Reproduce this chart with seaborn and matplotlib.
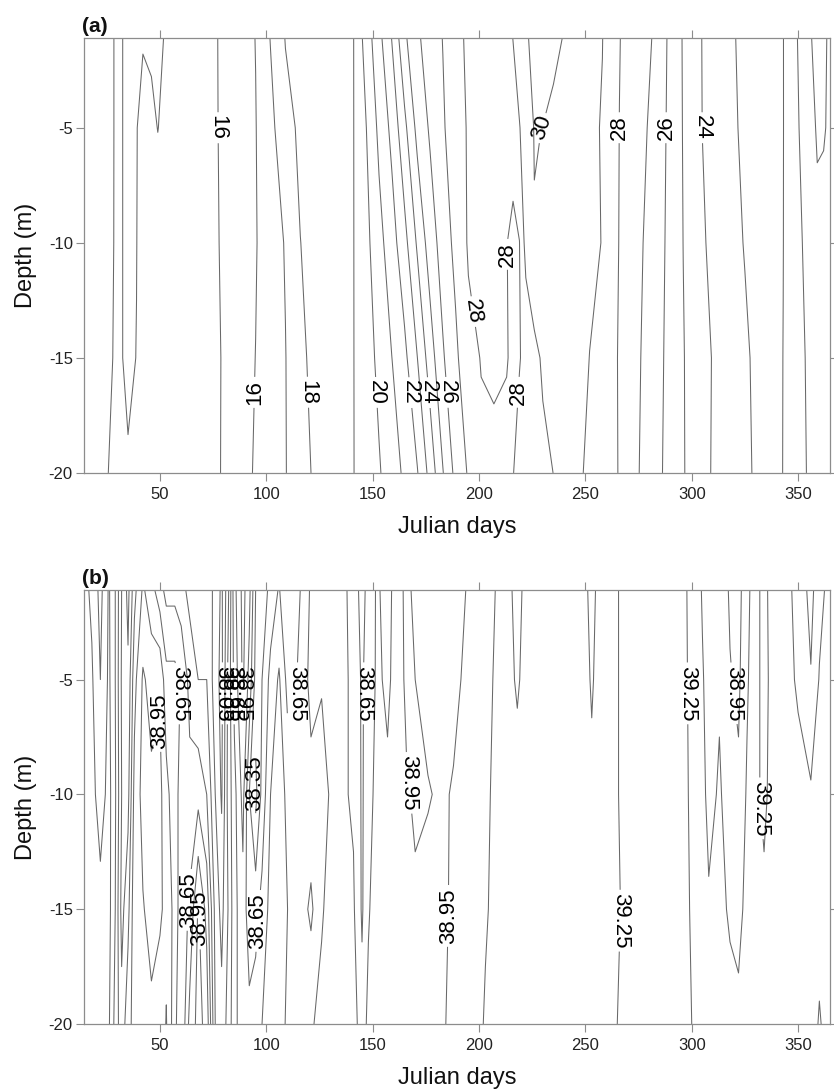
import numpy as np
import matplotlib
matplotlib.use("Agg")
import matplotlib.pyplot as plt
import seaborn as sns

sns.set_style("ticks")
plt.rcParams['font.family'] = ['Liberation Sans', 'DejaVu Sans']
plt.rcParams['axes.unicode_minus'] = False

# sampling depths (rows of both grids, top to bottom)
depths = [-1, -5, -10, -15, -20]

# ---- (a) temperature, values
days_a = [14, 22, 29, 32, 35, 39, 42, 46, 49, 52,
          60, 70, 77, 86, 95, 102, 109, 116, 122, 130,
          141, 147, 153, 159, 165, 171, 177, 183, 189, 195,
          201, 207, 213, 216, 219, 222, 226, 230, 235, 240,
          246, 252, 258, 266, 274, 282, 288, 296, 305, 315,
          325, 335, 343, 350, 355, 359, 362, 365]

temp_1m = [17.4, 17.2, 16.98, 16.97, 17.15, 17.1, 17.04, 17.08, 17.12, 16.99,
           16.7, 16.3, 16.01, 15.5, 16.02, 17.05, 18.05, 18.22, 18.41, 18.65,
           18.98, 20.47, 21.71, 23.05, 24.83, 25.85, 26.47, 27.03, 27.8, 28.12,
           28.37, 28.62, 28.87, 29.01, 29.45, 29.91, 30.2, 30.35, 30.2, 29.97,
           29.65, 29.33, 29.02, 28.03, 27.5, 26.95, 26.05, 24.92, 23.97, 23.3,
           22.77, 22.36, 22.02, 20.95, 20.05, 19.9, 19.95, 20.05]
temp_5m = [17.4, 17.2, 16.98, 16.97, 17.15, 17.02, 16.84, 16.9, 17.01, 16.9,
           16.65, 16.3, 16.02, 15.5, 15.97, 16.72, 17.69, 18.16, 18.36, 18.62,
           18.98, 19.99, 21.23, 22.25, 23.75, 25.29, 26.13, 26.88, 27.58, 28.09,
           28.31, 28.53, 28.74, 28.85, 28.96, 29.4, 30.05, 29.99, 29.82, 29.64,
           29.42, 29.2, 28.94, 27.99, 27.43, 26.75, 25.99, 24.95, 23.99, 23.37,
           22.82, 22.38, 22.02, 21.07, 20.29, 19.93, 19.95, 20.1]
temp_10m = [17.35, 17.18, 16.98, 16.97, 17.15, 17.01, 16.8, 16.78, 16.76, 16.75,
            16.6, 16.3, 16.05, 15.5, 15.95, 16.48, 17.07, 17.99, 18.24, 18.55,
            18.98, 19.73, 20.67, 21.57, 22.67, 24.14, 25.5, 26.43, 27.28, 28.1,
            28.2, 28.2, 28.05, 27.52, 27.98, 29.37, 29.94, 29.85, 29.7, 29.55,
            29.35, 29.15, 28.98, 27.96, 27.29, 26.55, 25.94, 24.99, 24.1, 23.5,
            22.95, 22.43, 22.01, 21.2, 20.7, 20.16, 20.2, 20.3]
temp_15m = [17.3, 17.15, 16.97, 16.98, 17.1, 16.99, 16.85, 16.8, 16.78, 16.75,
            16.6, 16.3, 16.09, 15.6, 16.01, 16.48, 16.97, 17.81, 18.19, 18.52,
            18.98, 19.57, 20.23, 20.99, 21.75, 22.99, 24.5, 25.89, 26.79, 27.75,
            28.03, 28.08, 28.02, 27.93, 27.97, 28.15, 28.7, 29.15, 29.4, 29.5,
            29.3, 28.99, 28.55, 27.93, 27.19, 26.45, 25.89, 25.05, 24.26, 23.65,
            23.15, 22.53, 21.99, 21.3, 20.85, 20.45, 20.4, 20.5]
temp_20m = [17.25, 17.08, 16.93, 16.94, 16.95, 16.93, 16.9, 16.85, 16.82, 16.8,
            16.6, 16.3, 16.08, 15.6, 16.08, 16.53, 16.96, 17.59, 18.08, 18.45,
            18.98, 19.44, 19.91, 20.52, 21.18, 21.94, 23.34, 24.95, 26.29, 27.1,
            27.85, 27.88, 27.9, 27.98, 28.2, 28.33, 28.54, 28.75, 29.01, 29.1,
            29.05, 28.95, 28.5, 27.95, 27.12, 26.39, 25.84, 25.07, 24.22, 23.66,
            23.2, 22.59, 21.98, 21.36, 20.9, 20.7, 20.6, 20.6]

temp_levels_plain = [15, 17, 19, 21, 23, 25, 27, 29]
temp_levels_labelled = [16, 18, 20, 22, 24, 26, 28, 30]

# ---- (b) salinity
days_b = [14, 18, 22, 26, 29, 32, 35, 38, 42, 46,
          50, 53, 57, 60, 64, 68, 72, 76, 79, 82,
          85, 89, 92, 95, 98, 102, 106, 110, 114, 117,
          121, 126, 131, 136, 141, 145, 148, 152, 157, 162,
          166, 170, 176, 182, 188, 195, 203, 210, 214, 218,
          222, 230, 240, 248, 253, 258, 262, 271, 285, 296,
          302, 305, 308, 313, 318, 322, 326, 330, 334, 338,
          344, 350, 356, 360, 365]

sal_1m = [39.0, 38.92, 38.75, 38.97, 38.8, 38.5, 38.3, 38.6, 38.82, 38.7,
          38.55, 38.45, 38.45, 38.4, 38.3, 38.25, 38.3, 38.15, 38.02, 38.3,
          38.75, 39.0, 38.85, 38.5, 38.4, 38.55, 38.66, 38.5, 38.55, 38.7,
          38.82, 38.85, 38.9, 38.85, 38.72, 38.6, 38.7, 38.82, 38.75, 38.88,
          39.0, 38.9, 38.85, 38.82, 38.9, 38.96, 39.06, 39.12, 39.13, 39.05,
          39.14, 39.17, 39.2, 39.18, 39.05, 39.19, 39.23, 39.28, 39.32, 39.27,
          39.2, 39.08, 39.0, 39.05, 38.93, 38.9, 39.05, 39.2, 39.3, 39.18,
          39.15, 39.05, 38.9, 39.05, 39.15]
sal_5m = [39.02, 38.97, 38.8, 38.98, 38.8, 38.48, 38.38, 38.75, 38.97, 38.9,
          38.93, 38.7, 38.7, 38.64, 38.45, 38.35, 38.35, 38.12, 38.0, 38.38,
          38.7, 38.98, 38.75, 38.45, 38.5, 38.7, 38.82, 38.6, 38.64, 38.72,
          38.85, 38.82, 38.88, 38.85, 38.75, 38.63, 38.72, 38.82, 38.78, 38.85,
          39.0, 38.95, 38.9, 38.88, 38.92, 38.98, 39.07, 39.13, 39.14, 39.08,
          39.15, 39.18, 39.21, 39.2, 39.08, 39.2, 39.23, 39.28, 39.32, 39.27,
          39.21, 39.12, 39.02, 39.08, 38.96, 38.92, 39.08, 39.2, 39.3, 39.2,
          39.15, 39.08, 38.96, 39.11, 39.18]
sal_10m = [39.02, 39.0, 38.88, 39.0, 38.82, 38.5, 38.45, 38.85, 39.0, 38.98,
           38.99, 38.85, 38.7, 38.6, 38.55, 38.6, 38.5, 38.2, 38.03, 38.4,
           38.6, 38.85, 38.5, 38.3, 38.55, 38.8, 38.9, 38.75, 38.7, 38.68,
           38.75, 38.7, 38.85, 38.82, 38.78, 38.63, 38.74, 38.85, 38.82, 38.82,
           38.93, 38.98, 38.96, 38.93, 38.96, 39.0, 39.08, 39.14, 39.15, 39.16,
           39.17, 39.19, 39.22, 39.22, 39.14, 39.22, 39.23, 39.28, 39.31, 39.27,
           39.22, 39.15, 39.05, 39.12, 39.02, 38.98, 39.12, 39.22, 39.28, 39.2,
           39.18, 39.15, 39.12, 39.15, 39.2]
sal_15m = [39.0, 39.0, 39.0, 39.0, 38.8, 38.45, 38.6, 38.9, 38.94, 39.0,
           38.98, 38.9, 38.75, 38.55, 38.68, 38.97, 38.75, 38.3, 38.15, 38.35,
           38.6, 38.75, 38.55, 38.6, 38.7, 38.85, 38.88, 38.8, 38.72, 38.7,
           38.62, 38.78, 38.88, 38.85, 38.82, 38.63, 38.78, 38.9, 38.85, 38.88,
           38.9, 38.92, 38.9, 38.92, 38.97, 39.02, 39.09, 39.14, 39.16, 39.17,
           39.18, 39.2, 39.22, 39.22, 39.2, 39.23, 39.23, 39.27, 39.3, 39.27,
           39.23, 39.2, 39.12, 39.14, 39.08, 39.05, 39.15, 39.23, 39.22, 39.2,
           39.2, 39.2, 39.16, 39.18, 39.2]
sal_20m = [38.98, 38.97, 38.96, 38.97, 38.75, 38.55, 38.75, 38.85, 38.9, 38.92,
           38.85, 38.96, 38.7, 38.5, 38.85, 39.0, 38.9, 38.35, 38.25, 38.4,
           38.6, 38.75, 38.7, 38.72, 38.8, 38.85, 38.85, 38.78, 38.75, 38.8,
           38.78, 38.85, 38.9, 38.9, 38.88, 38.7, 38.85, 38.8, 38.82, 38.82,
           38.85, 38.88, 38.9, 38.93, 38.98, 39.03, 39.11, 39.15, 39.16, 39.18,
           39.18, 39.2, 39.22, 39.23, 39.22, 39.23, 39.24, 39.27, 39.3, 39.27,
           39.24, 39.22, 39.15, 39.18, 39.15, 39.14, 39.2, 39.22, 39.2, 39.22,
           39.22, 39.22, 39.2, 39.08, 39.2]

sal_levels_plain = [38.2, 38.5, 38.8, 39.1]
sal_levels_labelled = [38.05, 38.35, 38.65, 38.95, 39.25]

# label placement (day, depth) and text angle, as in the original figure
temp_label_pos = [(77.2, -5), (94.7, -16.5), (117.5, -16.5), (152, -16.5),
                  (168.8, -16.5), (177.7, -16.5), (184.8, -16.5), (196.5, -13),
                  (214, -10.5), (219.3, -16.5), (229, -5), (265.9, -5),
                  (288.4, -5), (304.8, -5)]
temp_label_rot = [-90, 90, -90, -90, -90, -90, -90, -82, 90, 90, 72, 90, 90, -90]

sal_label_pos = [(51, -6.8), (59.6, -5.6), (79.5, -5.6), (81.8, -5.6),
                 (84.5, -5.6), (88.6, -5.6), (93.6, -9.5), (114.4, -5.6),
                 (145.5, -5.6), (166.7, -9.5), (64.6, -14.6), (69.8, -15.4),
                 (94.6, -15.5), (189, -15.3), (266.5, -15.5), (299, -5.6),
                 (319.5, -5.6), (333.6, -10.6)]
sal_label_rot = [90, -90, -90, -90, -90, -90, 90, -90, -90, -90,
                 90, 90, 90, 90, -90, -90, -90, -90]

line_col = '#686868'
spine_col = '#8c8c8c'

fig = plt.figure(figsize=(8.34, 10.91), dpi=100)
ax_a = fig.add_axes([0.1007, 0.5665, 0.8945, 0.3987])
ax_b = fig.add_axes([0.1007, 0.0614, 0.8945, 0.3978])


def draw_panel(ax, days, grid_rows, plain, labelled, label_pos, label_rot, fmt, tag):
    # rows go from the surface down, flip so depth increases upwards
    z = np.array(grid_rows[::-1])
    y = depths[::-1]
    ax.contour(days, y, z, levels=plain, colors=line_col, linewidths=0.75)
    cs = ax.contour(days, y, z, levels=labelled, colors=line_col, linewidths=0.75)
    ax.clabel(cs, manual=label_pos, inline=True, inline_spacing=3,
              fontsize=16, fmt=fmt, colors='black')
    for t, r in zip(cs.labelTexts, label_rot):
        t.set_rotation(r)

    ax.set_xlim(14.3, 365)
    ax.set_ylim(-20, -1.1)
    ax.set_xticks([50, 100, 150, 200, 250, 300, 350])
    ax.set_yticks([-5, -10, -15, -20])
    ax.tick_params(direction='out', length=6, width=0.8, color=spine_col,
                   labelsize=12, labelcolor='#222222', top=True, right=True,
                   labeltop=False, labelright=False)
    ax.tick_params(axis='x', pad=4)
    ax.tick_params(axis='y', pad=2)
    for sp in ax.spines.values():
        sp.set_color(spine_col)
        sp.set_linewidth(0.9)
    ax.set_xlabel('Julian days', fontsize=17, color='#111111')
    ax.set_ylabel('Depth (m)', fontsize=17, color='#111111')
    ax.xaxis.set_label_coords(0.5, -0.099)
    ax.yaxis.set_label_coords(-0.063, 0.5)
    ax.text(-0.003, 1.004, tag, transform=ax.transAxes, ha='left', va='bottom',
            fontsize=15, fontweight='bold', color='#111111')


draw_panel(ax_a, days_a, [temp_1m, temp_5m, temp_10m, temp_15m, temp_20m],
           temp_levels_plain, temp_levels_labelled, temp_label_pos, temp_label_rot,
           '%d', '(a)')
draw_panel(ax_b, days_b, [sal_1m, sal_5m, sal_10m, sal_15m, sal_20m],
           sal_levels_plain, sal_levels_labelled, sal_label_pos, sal_label_rot,
           '%.2f', '(b)')

fig.savefig('out.png', dpi=100)
